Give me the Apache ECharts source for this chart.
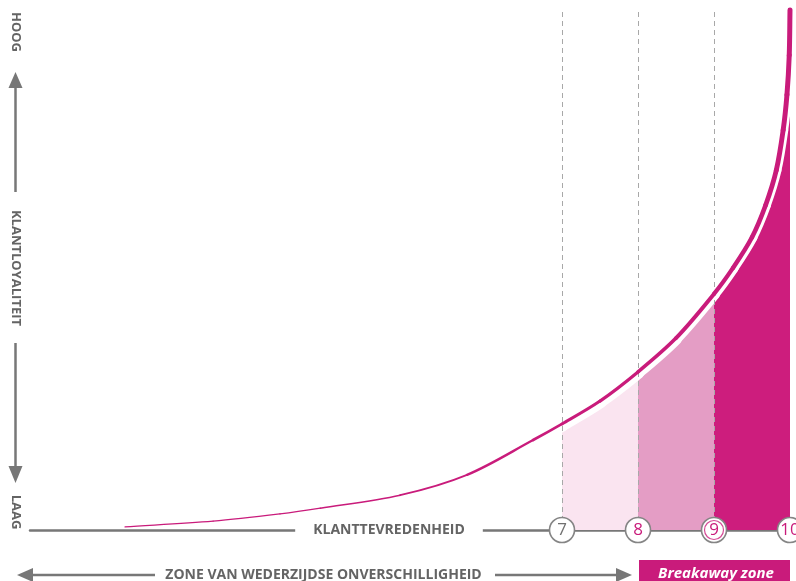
<!DOCTYPE html>
<html><head><meta charset="utf-8">
<script src="https://cdn.jsdelivr.net/npm/echarts@6/dist/echarts.min.js"></script>
<style>html,body{margin:0;padding:0;background:#fff}#c{width:796px;height:581px}</style>
</head><body><div id="c"></div>
<script>
// ---- data ----
const satisfaction = [1.25, 2.41, 3.29, 3.82, 4.87, 5.75, 6.62, 7, 7.5, 8, 8.5, 9, 9.25, 9.5, 9.68, 9.82, 9.91, 9.96, 9.99, 10];
const loyalty      = [0.6, 1.7, 3.1, 4.2, 6.7, 10.6, 17.3, 20.4, 24.8, 30.4, 36.9, 45.4, 50.4, 56.3, 62.5, 69.2, 76.9, 83.7, 91.3, 100];
const zoneBounds = [7, 8, 9, 10];
const scoreTicks = [7, 8, 9, 10];
const scoreLabels = ['7', '8', '9', '10'];
const xAxisTitle = 'KLANTTEVREDENHEID';
const yAxisTitle = 'KLANTLOYALITEIT';
const yHighText = 'HOOG';
const yLowText = 'LAAG';
const zoneBottomText = 'ZONE VAN WEDERZIJDSE ONVERSCHILLIGHEID';
const breakawayText = 'Breakaway zone';

// ---- styles ----
const MAG = '#C91B7B';
const GREY = '#777777';
const TXT = '#646464';
const zoneColors = ['#FAE4F0', '#E49DC5', '#CD1D7D'];
const FONT = '"Open Sans", "Liberation Sans", sans-serif';
const lineWidthAt = x => { const t = Math.max(0, (x - 1.25) / 8.75); return 1.1 + 3.9 * t * t; };
const bandWidthAt = x => 15 - (x - 7) * 5 / 3;
const BAND_START = 6.62;

const pts = satisfaction.map((x, i) => [x, loyalty[i]]);
const N = pts.length;

// chord-length cubic Hermite through projected points (pixel space)
function bezierSegments(api) {
  const P = pts.map(p => api.coord(p));
  const d = [];
  for (let i = 0; i < N - 1; i++) d.push(Math.hypot(P[i + 1][0] - P[i][0], P[i + 1][1] - P[i][1]));
  const m = P.map((p, i) => {
    if (i === 0) return [(P[1][0] - P[0][0]) / d[0], (P[1][1] - P[0][1]) / d[0]];
    if (i === N - 1) return [(P[i][0] - P[i - 1][0]) / d[i - 1], (P[i][1] - P[i - 1][1]) / d[i - 1]];
    const s = d[i - 1] + d[i];
    return [(P[i + 1][0] - P[i - 1][0]) / s, (P[i + 1][1] - P[i - 1][1]) / s];
  });
  const segs = [];
  for (let i = 0; i < N - 1; i++) {
    segs.push({
      x1: P[i][0], y1: P[i][1], x2: P[i + 1][0], y2: P[i + 1][1],
      cpx1: P[i][0] + m[i][0] * d[i] / 3, cpy1: P[i][1] + m[i][1] * d[i] / 3,
      cpx2: P[i + 1][0] - m[i + 1][0] * d[i] / 3, cpy2: P[i + 1][1] - m[i + 1][1] * d[i] / 3
    });
  }
  return segs;
}
function sampleSeg(s, steps) {
  const out = [];
  for (let k = 0; k <= steps; k++) {
    const t = k / steps, u = 1 - t;
    out.push([
      u * u * u * s.x1 + 3 * u * u * t * s.cpx1 + 3 * u * t * t * s.cpx2 + t * t * t * s.x2,
      u * u * u * s.y1 + 3 * u * u * t * s.cpy1 + 3 * u * t * t * s.cpy2 + t * t * t * s.y2
    ]);
  }
  return out;
}

const series = [];
// zone fills
series.push({
  type: 'custom', z: 1, silent: true,
  data: zoneBounds.slice(0, -1).map((v, i) => [v, zoneBounds[i + 1]]),
  encode: { x: [0, 1] },
  renderItem: (params, api) => {
    const a = api.value(0), b = api.value(1);
    const segs = bezierSegments(api);
    const poly = [api.coord([a, 0])];
    for (let i = 0; i < N - 1; i++) {
      if (pts[i][0] >= a - 1e-9 && pts[i + 1][0] <= b + 1e-9) {
        sampleSeg(segs[i], 16).forEach(p => poly.push(p));
      }
    }
    poly.push(api.coord([b, 0]));
    return { type: 'polygon', shape: { points: poly }, style: { fill: zoneColors[params.dataIndex], stroke: null } };
  }
});
// white gap band
series.push({
  type: 'custom', z: 3, silent: true,
  data: pts.slice(0, -1).map((p, i) => [p[0], pts[i + 1][0]]).filter(r => r[0] >= BAND_START - 1e-9),
  encode: { x: [0, 1] },
  renderItem: (params, api) => {
    const a = api.value(0);
    const i = satisfaction.indexOf(a);
    const s = bezierSegments(api)[i];
    const w = bandWidthAt((a + api.value(1)) / 2);
    return { type: 'bezierCurve', shape: s, style: { fill: null, stroke: '#ffffff', lineWidth: w, lineCap: 'round' } };
  }
});
// dashed guides
series.push({
  type: 'line', data: [], silent: true,
  markLine: {
    silent: true, symbol: 'none', label: { show: false },
    lineStyle: { type: [5, 4], color: '#a8a8a8', width: 1 },
    data: zoneBounds.slice(0, 3).map(v => ({ xAxis: v }))
  }
});
// tapered loyalty curve
series.push({
  type: 'custom', z: 6, silent: true,
  data: pts.slice(0, -1).map((p, i) => [p[0], pts[i + 1][0]]),
  encode: { x: [0, 1] },
  renderItem: (params, api) => {
    const i = params.dataIndex;
    const s = bezierSegments(api)[i];
    const w = lineWidthAt((api.value(0) + api.value(1)) / 2);
    return { type: 'bezierCurve', shape: s, style: { fill: null, stroke: MAG, lineWidth: w, lineCap: 'round' } };
  }
});
// score circles
series.push({
  type: 'scatter', z: 8, silent: true, symbolSize: 25,
  data: scoreTicks.map((v, i) => ({ value: [v, 0], label: { color: i === 0 ? '#707070' : MAG } })),
  itemStyle: { color: '#ffffff', borderColor: '#858585', borderWidth: 1.6, opacity: 1 },
  label: { show: true, position: 'inside', fontFamily: FONT, fontSize: 17, formatter: p => scoreLabels[p.dataIndex] }
});
// ring decoration on 9
series.push({
  type: 'scatter', z: 9, silent: true, symbolSize: 19,
  data: [[scoreTicks[2], 0]],
  itemStyle: { color: 'rgba(0,0,0,0)', borderColor: MAG, borderWidth: 1.2 }
});

const tStyle = (txt, size) => ({ text: txt, fontFamily: FONT, fontWeight: 'bold', fontSize: size || 13, fill: TXT, align: 'center', verticalAlign: 'middle' });
const graphic = [
  { type: 'text', x: 15.5, y: 32, rotation: -Math.PI / 2, style: tStyle(yHighText, 13), z: 100 },
  { type: 'polygon', shape: { points: [[15.5, 72], [8.5, 88], [22.5, 88]] }, style: { fill: GREY }, z: 100 },
  { type: 'line', shape: { x1: 15.5, y1: 86, x2: 15.5, y2: 192 }, style: { stroke: GREY, lineWidth: 2.5 }, z: 100 },
  { type: 'text', x: 15.5, y: 268, rotation: -Math.PI / 2, style: tStyle(yAxisTitle, 13), z: 100 },
  { type: 'line', shape: { x1: 15.5, y1: 343, x2: 15.5, y2: 468 }, style: { stroke: GREY, lineWidth: 2.5 }, z: 100 },
  { type: 'polygon', shape: { points: [[15.5, 483], [8.5, 466], [22.5, 466]] }, style: { fill: GREY }, z: 100 },
  { type: 'text', x: 15.5, y: 512, rotation: -Math.PI / 2, style: tStyle(yLowText, 13), z: 100 },
  { type: 'text', x: 389, y: 530, style: Object.assign(tStyle(xAxisTitle, 14), { backgroundColor: '#ffffff', padding: [3, 18] }), z: 100 },
  { type: 'polygon', shape: { points: [[17, 575], [33, 568], [33, 582]] }, style: { fill: GREY }, z: 100 },
  { type: 'line', shape: { x1: 31, y1: 575, x2: 155, y2: 575 }, style: { stroke: GREY, lineWidth: 2.5 }, z: 100 },
  { type: 'text', x: 323.5, y: 575, style: tStyle(zoneBottomText, 14), z: 100 },
  { type: 'line', shape: { x1: 495, y1: 575, x2: 619, y2: 575 }, style: { stroke: GREY, lineWidth: 2.5 }, z: 100 },
  { type: 'polygon', shape: { points: [[632, 575], [616, 568], [616, 582]] }, style: { fill: GREY }, z: 100 },
  { type: 'rect', shape: { x: 639, y: 560, width: 151, height: 30 }, style: { fill: MAG }, z: 100 },
  { type: 'text', x: 716, y: 574, style: { text: breakawayText, fontFamily: FONT, fontWeight: 'bold', fontStyle: 'italic', fontSize: 15, fill: '#ffffff', align: 'center', verticalAlign: 'middle' }, z: 101 }
];

const chart = echarts.init(document.getElementById('c'), null, { renderer: 'canvas' });
chart.setOption({
  animation: false,
  backgroundColor: '#ffffff',
  grid: { left: 30, right: 6, top: 10, bottom: 51 },
  xAxis: {
    type: 'value', min: 0, max: 10,
    axisLine: { show: true, lineStyle: { color: GREY, width: 2.5 } },
    axisTick: { show: false }, axisLabel: { show: false }, splitLine: { show: false }
  },
  yAxis: { type: 'value', min: 0, max: 100, show: false },
  series: series,
  graphic: graphic
});
</script>
</body></html>
